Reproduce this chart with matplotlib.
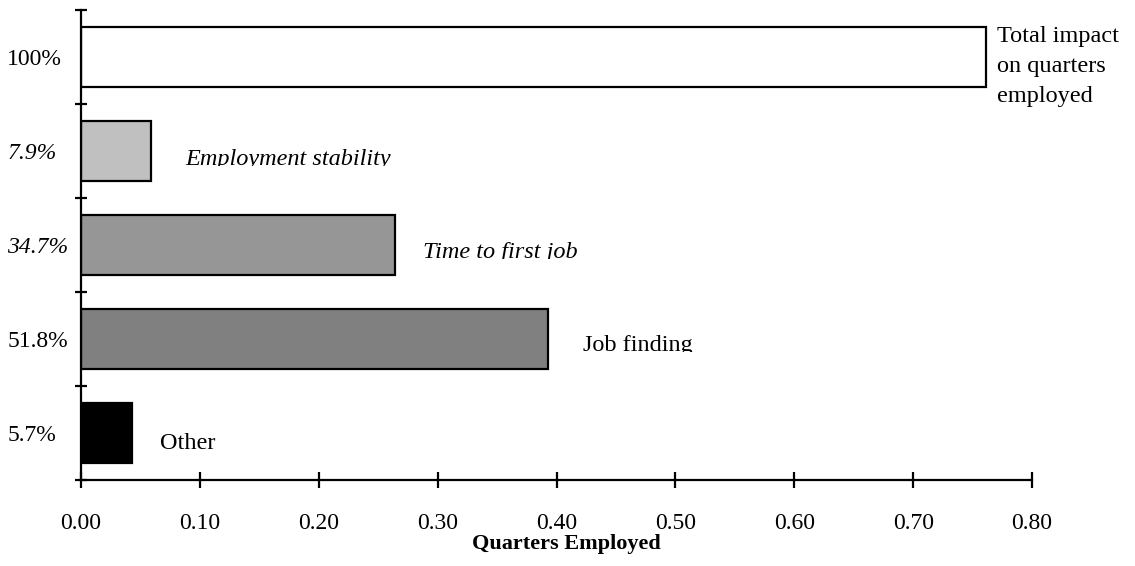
import matplotlib
matplotlib.use("Agg")
import matplotlib.pyplot as plt
from matplotlib.patches import Rectangle
import numpy as np

# data
shares = ["100%", "7.9%", "34.7%", "51.8%", "5.7%"]
components = ["Total impact\non quarters\nemployed", "Employment stability",
              "Time to first job", "Job finding", "Other"]
quarters = [0.761, 0.059, 0.264, 0.393, 0.0425]
italic = [False, True, True, False, False]
colors = ["white", "#c0c0c0", "#969696", "#808080", "black"]
xticks = [0.0, 0.1, 0.2, 0.3, 0.4, 0.5, 0.6, 0.7, 0.8]

plt.rcParams["font.family"] = ["Liberation Serif", "DejaVu Serif"]

fig = plt.figure(figsize=(11.35, 5.66), dpi=100)
ax = fig.add_axes([81 / 1135, 1 - 480 / 566, (1032 - 81) / 1135, 470 / 566])

pos = np.arange(len(quarters))
ax.barh(pos, quarters, height=0.64, color=colors, edgecolor="black", linewidth=1.6)

ax.set_xlim(0, 0.8)
ax.set_ylim(len(quarters) - 0.5, -0.5)

ax.spines["top"].set_visible(False)
ax.spines["right"].set_visible(False)
ax.spines["left"].set_linewidth(1.6)
ax.spines["bottom"].set_linewidth(1.6)

# y axis: labels at centres, tick marks between categories
ax.set_yticks(pos)
ax.set_yticklabels(shares)
ax.set_yticks(np.arange(len(quarters) + 1) - 0.5, minor=True)
ax.tick_params(axis="y", which="major", length=0, pad=53, labelsize=17)
ax.tick_params(axis="y", which="minor", direction="inout", length=9, width=1.6)
for lab, it in zip(ax.get_yticklabels(), italic):
    lab.set_horizontalalignment("left")
    if it:
        lab.set_style("italic")

ax.set_xticks(xticks)
ax.set_xticklabels([f"{v:.2f}" for v in xticks])
ax.tick_params(axis="x", direction="inout", length=11, width=1.6, pad=18, labelsize=17)
ax.set_xlabel("Quarters Employed", fontsize=16, fontweight="bold")
ax.xaxis.set_label_coords(0.51, -0.115)

# component labels next to the bars
ax.text(quarters[0] + 0.0095, -0.33, components[0], fontsize=17.5, va="top",
        linespacing=1.55)
offsets = [None, 0.029, 0.024, 0.029, 0.024]
drops = [None, 0.145, 0.135, 0.13, 0.17]
for i in range(1, len(quarters)):
    t = ax.text(quarters[i] + offsets[i], pos[i] + drops[i], components[i],
                fontsize=17.5, va="baseline", clip_on=True,
                style="italic" if italic[i] else "normal")
    # the descenders are cut off in the original
    t.set_clip_path(Rectangle((0, pos[i] - 0.5), 0.8, drops[i] + 0.5 + 0.01,
                              transform=ax.transData))

fig.savefig("out.png", dpi=100)
